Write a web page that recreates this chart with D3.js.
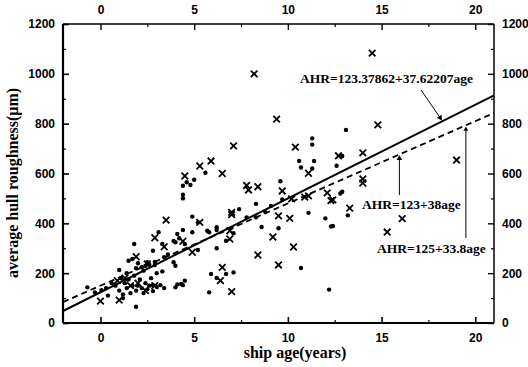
<!DOCTYPE html>
<html>
<head>
<meta charset="utf-8">
<script src="https://cdn.jsdelivr.net/npm/d3@7"></script>
<style>
  body { margin: 0; background: #fff; }
  svg { display: block; }
  .tick-lbl { font-family: "Liberation Sans", Arial, sans-serif; font-weight: bold; font-size: 12px; }
  .ttl { font-family: "Liberation Serif", "Times New Roman", serif; font-weight: bold; }
  .ann { font-family: "Liberation Serif", "Times New Roman", serif; font-size: 13.5px; font-weight: bold; }
</style>
</head>
<body>
<div id="chart"></div>
<script>
// tick labels
var xTicks = [0, 5, 10, 15, 20];
var yTicks = [0, 200, 400, 600, 800, 1000, 1200];

// measured points [age, roughness]
var dots = [
  [4.4, 551], [4.4, 515], [4.4, 500], [5.6, 603], [5.0, 575], [4.8, 554], [4.6, 565],
  [13.1, 775], [10.6, 650], [10.7, 624], [11.4, 650], [11.3, 620], [11.3, 741], [11.3, 716],
  [9.6, 569], [12.6, 631], [12.9, 670], [9.7, 496], [8.3, 478], [7.4, 457], [11.1, 442],
  [12.0, 420], [12.3, 387], [12.8, 520], [9.5, 380], [13.2, 432], [10.7, 221], [12.2, 134],
  [12.4, 389], [12.9, 527],
  [5.7, 370], [6.2, 384], [5.2, 293], [6.2, 300], [6.7, 330], [7.1, 360], [7.8, 424],
  [8.3, 424], [8.8, 445], [9.1, 470], [8.6, 385], [4.9, 427], [5.2, 404], [4.1, 357],
  [4.5, 317], [4.0, 324], [3.3, 317], [3.1, 364], [3.9, 244], [4.0, 230], [3.3, 207],
  [4.5, 170], [4.3, 157], [4.0, 143], [3.4, 140], [5.8, 123], [5.9, 197], [6.2, 181],
  [6.7, 197], [7.1, 203], [4.9, 364], [5.8, 364], [6.2, 373], [4.4, 373], [4.2, 340],
  [3.9, 329], [3.4, 264], [3.6, 275], [2.9, 233], [2.8, 152], [3.2, 152], [4.1, 155],
  [4.4, 152],
  [-0.7, 143], [-0.3, 123], [0.05, 132], [0.3, 140], [1.9, 65], [1.0, 213], [1.7, 257],
  [1.8, 317], [2.2, 224], [2.5, 244], [0.8, 150], [1.0, 130], [1.2, 115], [1.3, 160],
  [1.4, 140], [1.5, 175], [1.6, 120], [1.7, 150], [1.8, 190], [1.9, 130], [2.0, 150],
  [2.1, 175], [2.2, 140], [2.3, 120], [2.4, 160], [2.5, 135], [2.6, 150], [2.7, 180],
  [2.8, 128], [3.0, 145], [1.1, 180], [1.4, 200], [1.9, 220], [2.0, 240], [2.3, 210],
  [2.6, 235], [2.9, 245], [0.6, 160], [0.4, 110], [1.5, 250], [2.8, 290], [3.0, 200],
  [2.4, 230], [1.2, 100]
];

var crosses = [
  [8.2, 1000], [14.5, 1083], [9.4, 818], [14.8, 795], [10.4, 706], [14.0, 683], [12.7, 671],
  [11.1, 601], [19.0, 654], [14.0, 562], [14.0, 578], [13.3, 461], [16.1, 419], [15.3, 365],
  [12.4, 494], [9.7, 530], [12.3, 491], [10.3, 305], [9.5, 233], [9.2, 345], [10.1, 420],
  [9.5, 430], [10.9, 505], [11.1, 510], [12.1, 522], [10.2, 498], [7.8, 552], [7.9, 534],
  [8.4, 547], [7.1, 711], [5.9, 650], [5.3, 630], [4.5, 590], [6.5, 600], [3.5, 413],
  [5.3, 404], [7.0, 435], [8.4, 273], [2.9, 342], [3.4, 306], [4.4, 328], [4.9, 284],
  [6.5, 223], [6.4, 170], [7.0, 126], [6.9, 337], [6.9, 370], [7.0, 444], [1.9, 266],
  [0.0, 88], [1.0, 92], [2.5, 237], [1.3, 180], [2.0, 160], [2.9, 150], [0.9, 170],
  [2.4, 130], [1.6, 150]
];

// regression lines [intercept, slope]
var fitSolid = [123.37862, 37.62207];
var fitDashed = [150, 33.0];

var width = 528, height = 367;
var margin = { top: 24, right: 34, bottom: 44, left: 63 };

var svg = d3.select("#chart").append("svg")
  .attr("width", width).attr("height", height);

var x = d3.scaleLinear().domain([-2, 21]).range([margin.left, width - margin.right]);
var y = d3.scaleLinear().domain([0, 1200]).range([height - margin.bottom, margin.top]);

var xMinor = d3.range(-2.5, 22, 2.5).filter(function (v) { return v > -2 && v < 21 && xTicks.indexOf(v) < 0; });
var yMinor = d3.range(100, 1200, 200);
var fmt = d3.format("d");

// axes, ticks pointing inward
function addAxis(axis, tx, ty, size) {
  var g = svg.append("g").attr("transform", "translate(" + tx + "," + ty + ")").call(axis);
  g.select(".domain").remove();
  g.selectAll("line").attr("stroke", "#000").attr("stroke-width", size);
  return g;
}
addAxis(d3.axisBottom(x).tickValues(xTicks).tickFormat(fmt).tickSize(-6).tickPadding(10), 0, y(0), 1.6);
addAxis(d3.axisTop(x).tickValues(xTicks).tickFormat(fmt).tickSize(-6).tickPadding(10), 0, y(1200), 1.4);
addAxis(d3.axisLeft(y).tickValues(yTicks).tickFormat(fmt).tickSize(-6).tickPadding(8), x(-2), 0, 1.6);
addAxis(d3.axisRight(y).tickValues(yTicks).tickFormat(fmt).tickSize(-6).tickPadding(8), x(21), 0, 1.4);
addAxis(d3.axisBottom(x).tickValues(xMinor).tickSize(-3).tickFormat(""), 0, y(0), 1.2);
addAxis(d3.axisTop(x).tickValues(xMinor).tickSize(-3).tickFormat(""), 0, y(1200), 1.2);
addAxis(d3.axisLeft(y).tickValues(yMinor).tickSize(-3).tickFormat(""), x(-2), 0, 1.2);
addAxis(d3.axisRight(y).tickValues(yMinor).tickSize(-3).tickFormat(""), x(21), 0, 1.2);
svg.selectAll(".tick text").attr("class", "tick-lbl").attr("fill", "#000");
svg.selectAll("g").attr("font-size", null).attr("font-family", null);

// frame
svg.append("line").attr("x1", x(-2)).attr("x2", x(-2)).attr("y1", y(0)).attr("y2", y(1200)).attr("stroke", "#000").attr("stroke-width", 2.2);
svg.append("line").attr("x1", x(-2)).attr("x2", x(21)).attr("y1", y(0)).attr("y2", y(0)).attr("stroke", "#000").attr("stroke-width", 2.2);
svg.append("line").attr("x1", x(-2)).attr("x2", x(21)).attr("y1", y(1200)).attr("y2", y(1200)).attr("stroke", "#000").attr("stroke-width", 1.5);
svg.append("line").attr("x1", x(21)).attr("x2", x(21)).attr("y1", y(0)).attr("y2", y(1200)).attr("stroke", "#000").attr("stroke-width", 1.5);

// fitted lines
function fitLine(f) {
  return d3.line()([[x(-2), y(f[0] + f[1] * -2)], [x(21), y(f[0] + f[1] * 21)]]);
}
svg.append("path").attr("d", fitLine(fitSolid)).attr("stroke", "#000").attr("stroke-width", 2).attr("fill", "none");
svg.append("path").attr("d", fitLine(fitDashed)).attr("stroke", "#000").attr("stroke-width", 1.8)
  .attr("stroke-dasharray", "6,4").attr("fill", "none");

// scatter
svg.append("g").selectAll("circle").data(dots).enter().append("circle")
  .attr("cx", function (d) { return x(d[0]); })
  .attr("cy", function (d) { return y(d[1]); })
  .attr("r", 2.2).attr("fill", "#000");

var cs = 3.3;
svg.append("g").selectAll("path").data(crosses).enter().append("path")
  .attr("d", function (d) {
    var cx = x(d[0]), cy = y(d[1]);
    return "M" + (cx - cs) + "," + (cy - cs) + "L" + (cx + cs) + "," + (cy + cs) +
      "M" + (cx - cs) + "," + (cy + cs) + "L" + (cx + cs) + "," + (cy - cs);
  })
  .attr("stroke", "#000").attr("stroke-width", 1.8).attr("fill", "none");

// annotations
svg.append("text").attr("class", "ann").attr("x", 300).attr("y", 83).text("AHR=123.37862+37.62207age");
var a1x = 18.2;
svg.append("line").attr("x1", 421).attr("y1", 90).attr("x2", x(a1x)).attr("y2", y(fitSolid[0] + fitSolid[1] * a1x) - 2)
  .attr("stroke", "#000").attr("stroke-width", 1);
svg.append("path").attr("d", d3.symbol(d3.symbolTriangle, 14)())
  .attr("transform", "translate(" + (x(a1x) - 1.5) + "," + (y(fitSolid[0] + fitSolid[1] * a1x) - 4) + ") rotate(150)");

svg.append("text").attr("class", "ann").attr("x", 362).attr("y", 209).text("AHR=123+38age");
var a2x = 15.95;
svg.append("line").attr("x1", x(a2x)).attr("x2", x(a2x)).attr("y1", 195).attr("y2", y(fitDashed[0] + fitDashed[1] * a2x) + 3)
  .attr("stroke", "#000").attr("stroke-width", 1);
svg.append("path").attr("d", d3.symbol(d3.symbolTriangle, 14)())
  .attr("transform", "translate(" + x(a2x) + "," + (y(fitDashed[0] + fitDashed[1] * a2x) + 4) + ")");

svg.append("text").attr("class", "ann").attr("x", 377).attr("y", 253).text("AHR=125+33.8age");
var a3x = 19.5;
svg.append("line").attr("x1", x(a3x)).attr("x2", x(a3x)).attr("y1", 238).attr("y2", y(fitDashed[0] + fitDashed[1] * a3x) + 3)
  .attr("stroke", "#000").attr("stroke-width", 1);
svg.append("path").attr("d", d3.symbol(d3.symbolTriangle, 10)())
  .attr("transform", "translate(" + x(a3x) + "," + (y(fitDashed[0] + fitDashed[1] * a3x) + 4) + ")");

// axis titles
svg.append("text").attr("class", "ttl").attr("font-size", 16).attr("text-anchor", "middle")
  .attr("x", 295).attr("y", 358).text("ship age(years)");
svg.append("text").attr("class", "ttl").attr("font-size", 16).attr("text-anchor", "middle")
  .attr("transform", "translate(18,183) rotate(-90)").text("average hull roughness(μm)");
</script>
</body>
</html>
